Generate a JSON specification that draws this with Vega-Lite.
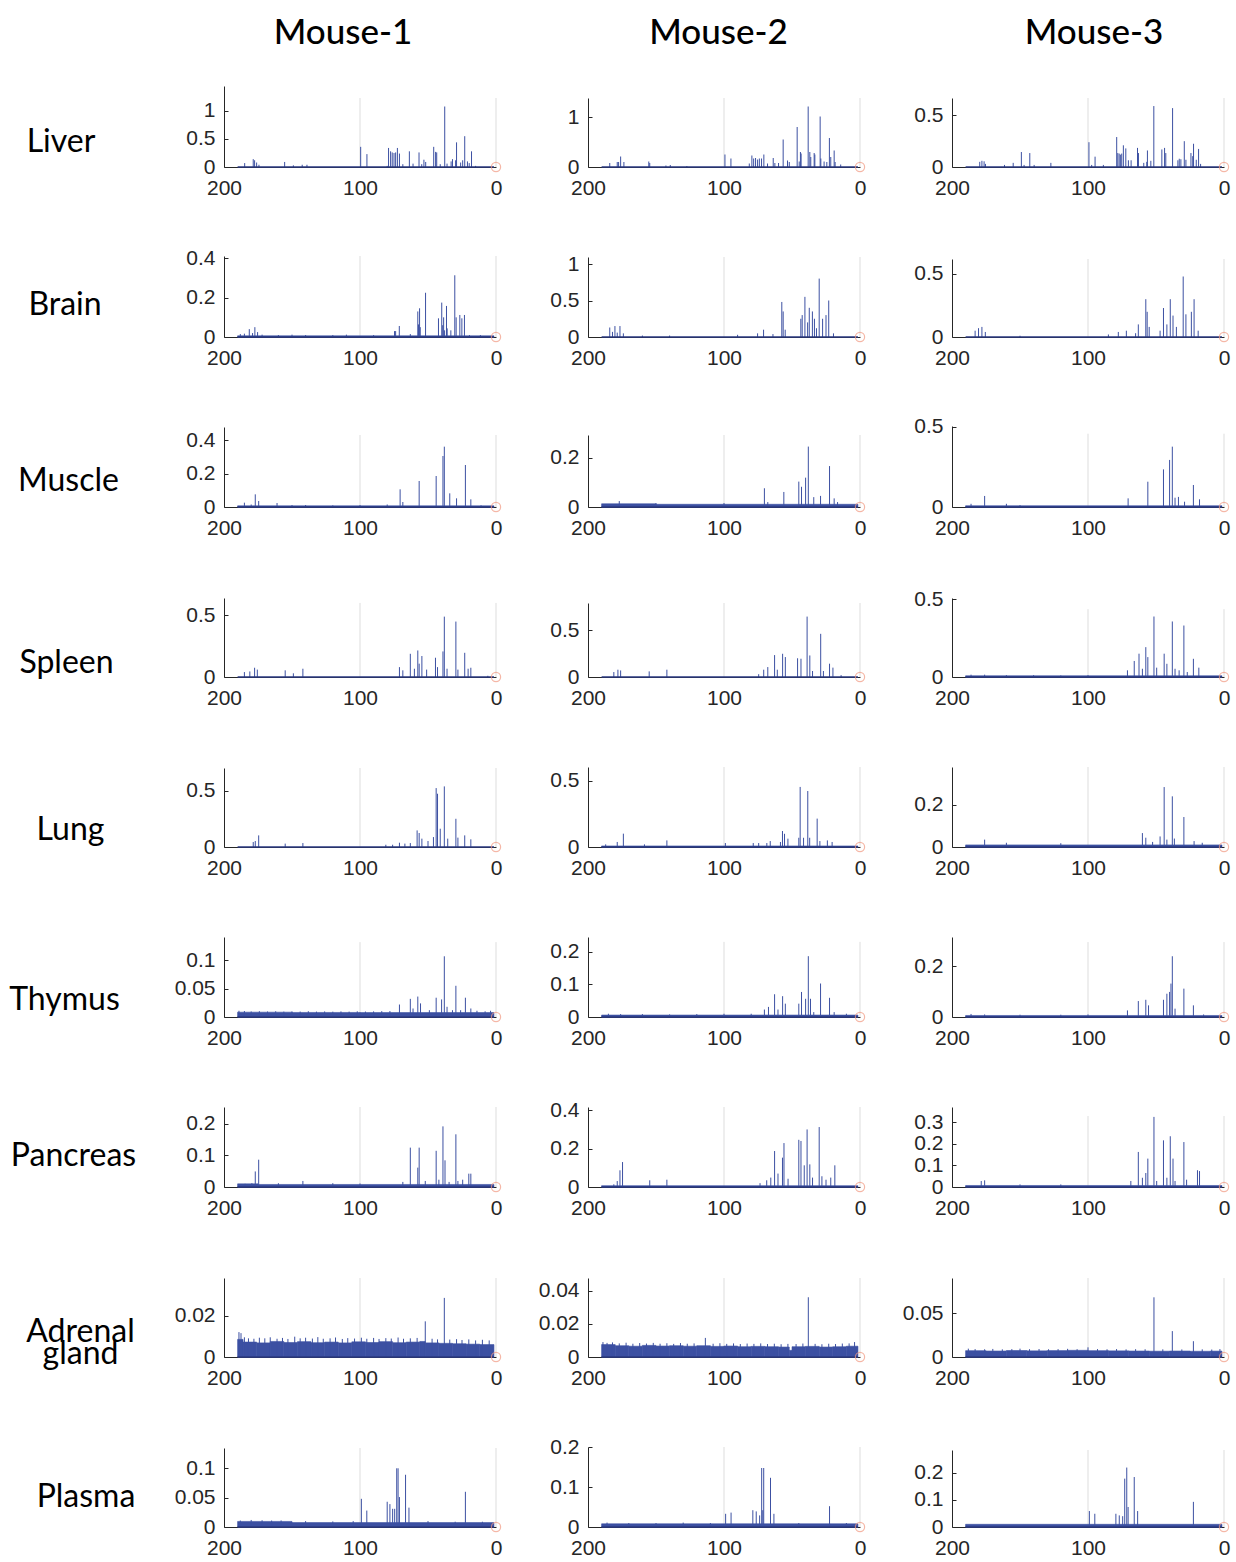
{
"$schema": "https://vega.github.io/schema/vega-lite/v6.json",
"background": "white",
"padding": {"left": 8, "top": 16, "right": 5, "bottom": 5},
"datasets": {
"s": [
{"p":"Li1","x":184.8,"v":0.07},{"p":"Li1","x":178.5,"v":0.14},{"p":"Li1","x":177.5,"v":0.12},{"p":"Li1","x":176,"v":0.08},{"p":"Li1","x":174.3,"v":0.04},{"p":"Li1","x":155.4,"v":0.09},{"p":"Li1","x":149,"v":0.03},{"p":"Li1","x":142.5,"v":0.04},{"p":"Li1","x":139,"v":0.04},{"p":"Li1","x":99.5,"v":0.36},{"p":"Li1","x":94.9,"v":0.23},{"p":"Li1","x":80,"v":0.02},{"p":"Li1","x":79,"v":0.34},{"p":"Li1","x":77.5,"v":0.28},{"p":"Li1","x":76.3,"v":0.26},{"p":"Li1","x":75,"v":0.25},{"p":"Li1","x":73.8,"v":0.26},{"p":"Li1","x":72.5,"v":0.34},{"p":"Li1","x":71,"v":0.24},{"p":"Li1","x":68.5,"v":0.05},{"p":"Li1","x":63.7,"v":0.28},{"p":"Li1","x":61,"v":0.06},{"p":"Li1","x":56.6,"v":0.26},{"p":"Li1","x":54.6,"v":0.05},{"p":"Li1","x":53,"v":0.13},{"p":"Li1","x":51.7,"v":0.09},{"p":"Li1","x":45.8,"v":0.36},{"p":"Li1","x":44.4,"v":0.27},{"p":"Li1","x":43.6,"v":0.26},{"p":"Li1","x":41,"v":0.05},{"p":"Li1","x":37.7,"v":1.08},{"p":"Li1","x":36,"v":0.06},{"p":"Li1","x":33,"v":0.1},{"p":"Li1","x":32,"v":0.14},{"p":"Li1","x":29.7,"v":0.12},{"p":"Li1","x":29,"v":0.44},{"p":"Li1","x":26,"v":0.08},{"p":"Li1","x":24.5,"v":0.12},{"p":"Li1","x":23,"v":0.55},{"p":"Li1","x":21,"v":0.1},{"p":"Li1","x":19.7,"v":0.07},{"p":"Li1","x":18,"v":0.28},{"p":"Li1","x":15,"v":0.02},
{"p":"Li2","x":184,"v":0.08},{"p":"Li2","x":178.5,"v":0.1},{"p":"Li2","x":177.5,"v":0.1},{"p":"Li2","x":176,"v":0.21},{"p":"Li2","x":173.6,"v":0.1},{"p":"Li2","x":155.3,"v":0.11},{"p":"Li2","x":154.6,"v":0.08},{"p":"Li2","x":142.7,"v":0.03},{"p":"Li2","x":139.5,"v":0.04},{"p":"Li2","x":127.3,"v":0.02},{"p":"Li2","x":99.3,"v":0.25},{"p":"Li2","x":94.9,"v":0.17},{"p":"Li2","x":81.4,"v":0.07},{"p":"Li2","x":79.5,"v":0.23},{"p":"Li2","x":78.2,"v":0.17},{"p":"Li2","x":76.8,"v":0.18},{"p":"Li2","x":75.3,"v":0.15},{"p":"Li2","x":74,"v":0.17},{"p":"Li2","x":72.4,"v":0.17},{"p":"Li2","x":70.7,"v":0.25},{"p":"Li2","x":68,"v":0.07},{"p":"Li2","x":63.8,"v":0.18},{"p":"Li2","x":62.6,"v":0.08},{"p":"Li2","x":59.9,"v":0.08},{"p":"Li2","x":56.5,"v":0.55},{"p":"Li2","x":53.3,"v":0.13},{"p":"Li2","x":52,"v":0.1},{"p":"Li2","x":46.2,"v":0.8},{"p":"Li2","x":44.7,"v":0.11},{"p":"Li2","x":43.8,"v":0.3},{"p":"Li2","x":43.3,"v":0.27},{"p":"Li2","x":38.1,"v":1.21},{"p":"Li2","x":36.9,"v":0.3},{"p":"Li2","x":36.2,"v":0.2},{"p":"Li2","x":33.7,"v":0.28},{"p":"Li2","x":33.2,"v":0.25},{"p":"Li2","x":29.3,"v":1.01},{"p":"Li2","x":28.8,"v":0.17},{"p":"Li2","x":26.4,"v":0.11},{"p":"Li2","x":24.4,"v":0.1},{"p":"Li2","x":22.5,"v":0.58},{"p":"Li2","x":21.5,"v":0.2},{"p":"Li2","x":19,"v":0.33},{"p":"Li2","x":18.3,"v":0.1},{"p":"Li2","x":14.2,"v":0.05},
{"p":"Li3","x":179.6,"v":0.05},{"p":"Li3","x":178,"v":0.06},{"p":"Li3","x":176.4,"v":0.055},{"p":"Li3","x":175.4,"v":0.03},{"p":"Li3","x":161.4,"v":0.02},{"p":"Li3","x":155,"v":0.04},{"p":"Li3","x":149,"v":0.145},{"p":"Li3","x":147,"v":0.02},{"p":"Li3","x":142.8,"v":0.135},{"p":"Li3","x":139.6,"v":0.02},{"p":"Li3","x":127.3,"v":0.04},{"p":"Li3","x":99.3,"v":0.24},{"p":"Li3","x":97.3,"v":0.02},{"p":"Li3","x":94.8,"v":0.1},{"p":"Li3","x":88.7,"v":0.02},{"p":"Li3","x":78.9,"v":0.29},{"p":"Li3","x":78.1,"v":0.135},{"p":"Li3","x":77.1,"v":0.13},{"p":"Li3","x":76.2,"v":0.12},{"p":"Li3","x":75.2,"v":0.13},{"p":"Li3","x":74,"v":0.21},{"p":"Li3","x":72.2,"v":0.18},{"p":"Li3","x":70.3,"v":0.065},{"p":"Li3","x":68.3,"v":0.065},{"p":"Li3","x":63.6,"v":0.185},{"p":"Li3","x":62.9,"v":0.135},{"p":"Li3","x":59,"v":0.04},{"p":"Li3","x":56.8,"v":0.05},{"p":"Li3","x":56.3,"v":0.16},{"p":"Li3","x":53.8,"v":0.06},{"p":"Li3","x":51.6,"v":0.59},{"p":"Li3","x":45.7,"v":0.17},{"p":"Li3","x":43.7,"v":0.185},{"p":"Li3","x":42.8,"v":0.135},{"p":"Li3","x":37.8,"v":0.57},{"p":"Li3","x":33.9,"v":0.065},{"p":"Li3","x":32.9,"v":0.08},{"p":"Li3","x":31.7,"v":0.075},{"p":"Li3","x":29.2,"v":0.25},{"p":"Li3","x":28,"v":0.07},{"p":"Li3","x":24.3,"v":0.135},{"p":"Li3","x":23,"v":0.105},{"p":"Li3","x":22.4,"v":0.225},{"p":"Li3","x":20.4,"v":0.07},{"p":"Li3","x":18.7,"v":0.175},{"p":"Li3","x":17.2,"v":0.03},
{"p":"Br1","x":188,"v":0.015},{"p":"Br1","x":185,"v":0.017},{"p":"Br1","x":181.4,"v":0.04},{"p":"Br1","x":179,"v":0.02},{"p":"Br1","x":177.3,"v":0.05},{"p":"Br1","x":175.3,"v":0.025},{"p":"Br1","x":172,"v":0.012},{"p":"Br1","x":160,"v":0.01},{"p":"Br1","x":150,"v":0.012},{"p":"Br1","x":140,"v":0.01},{"p":"Br1","x":120,"v":0.01},{"p":"Br1","x":110,"v":0.012},{"p":"Br1","x":90,"v":0.01},{"p":"Br1","x":74.6,"v":0.03},{"p":"Br1","x":73.8,"v":0.03},{"p":"Br1","x":71.1,"v":0.056},{"p":"Br1","x":63,"v":0.015},{"p":"Br1","x":57.5,"v":0.13},{"p":"Br1","x":57,"v":0.064},{"p":"Br1","x":56.2,"v":0.146},{"p":"Br1","x":55.7,"v":0.05},{"p":"Br1","x":51.8,"v":0.225},{"p":"Br1","x":42.3,"v":0.095},{"p":"Br1","x":39.9,"v":0.175},{"p":"Br1","x":39.2,"v":0.06},{"p":"Br1","x":38.5,"v":0.1},{"p":"Br1","x":37.8,"v":0.034},{"p":"Br1","x":36.4,"v":0.158},{"p":"Br1","x":35.9,"v":0.044},{"p":"Br1","x":33.2,"v":0.034},{"p":"Br1","x":30.3,"v":0.314},{"p":"Br1","x":29.3,"v":0.1},{"p":"Br1","x":26.6,"v":0.112},{"p":"Br1","x":25.1,"v":0.095},{"p":"Br1","x":23.2,"v":0.112},{"p":"Br1","x":19.5,"v":0.01},{"p":"Br1","x":11.5,"v":0.01},
{"p":"Br2","x":184,"v":0.13},{"p":"Br2","x":182,"v":0.07},{"p":"Br2","x":180.2,"v":0.15},{"p":"Br2","x":178.5,"v":0.06},{"p":"Br2","x":176.5,"v":0.15},{"p":"Br2","x":174,"v":0.05},{"p":"Br2","x":160,"v":0.02},{"p":"Br2","x":140,"v":0.02},{"p":"Br2","x":90,"v":0.03},{"p":"Br2","x":75.3,"v":0.05},{"p":"Br2","x":70.9,"v":0.1},{"p":"Br2","x":64,"v":0.04},{"p":"Br2","x":57.5,"v":0.48},{"p":"Br2","x":56.5,"v":0.35},{"p":"Br2","x":55,"v":0.1},{"p":"Br2","x":43.5,"v":0.25},{"p":"Br2","x":42.5,"v":0.3},{"p":"Br2","x":40.5,"v":0.55},{"p":"Br2","x":38.5,"v":0.2},{"p":"Br2","x":37.3,"v":0.4},{"p":"Br2","x":35,"v":0.35},{"p":"Br2","x":33.5,"v":0.25},{"p":"Br2","x":32,"v":0.12},{"p":"Br2","x":30,"v":0.8},{"p":"Br2","x":27.5,"v":0.25},{"p":"Br2","x":25,"v":0.3},{"p":"Br2","x":23,"v":0.5},{"p":"Br2","x":19.5,"v":0.05},
{"p":"Br3","x":183,"v":0.05},{"p":"Br3","x":180.5,"v":0.07},{"p":"Br3","x":178,"v":0.08},{"p":"Br3","x":175.5,"v":0.04},{"p":"Br3","x":150,"v":0.01},{"p":"Br3","x":85,"v":0.02},{"p":"Br3","x":77.7,"v":0.04},{"p":"Br3","x":71.8,"v":0.05},{"p":"Br3","x":65,"v":0.03},{"p":"Br3","x":63,"v":0.1},{"p":"Br3","x":57.5,"v":0.3},{"p":"Br3","x":56.5,"v":0.2},{"p":"Br3","x":55,"v":0.08},{"p":"Br3","x":47,"v":0.05},{"p":"Br3","x":44.5,"v":0.23},{"p":"Br3","x":42,"v":0.1},{"p":"Br3","x":39.5,"v":0.3},{"p":"Br3","x":37.5,"v":0.17},{"p":"Br3","x":35,"v":0.08},{"p":"Br3","x":30,"v":0.48},{"p":"Br3","x":28,"v":0.18},{"p":"Br3","x":24,"v":0.2},{"p":"Br3","x":22,"v":0.3},{"p":"Br3","x":19,"v":0.05},
{"p":"Mu1","x":185,"v":0.026},{"p":"Mu1","x":180,"v":0.015},{"p":"Mu1","x":177,"v":0.076},{"p":"Mu1","x":174.5,"v":0.036},{"p":"Mu1","x":161,"v":0.024},{"p":"Mu1","x":150,"v":0.012},{"p":"Mu1","x":140,"v":0.012},{"p":"Mu1","x":120,"v":0.01},{"p":"Mu1","x":100,"v":0.012},{"p":"Mu1","x":80,"v":0.015},{"p":"Mu1","x":70.5,"v":0.106},{"p":"Mu1","x":68.5,"v":0.03},{"p":"Mu1","x":56.5,"v":0.156},{"p":"Mu1","x":44,"v":0.186},{"p":"Mu1","x":39,"v":0.306},{"p":"Mu1","x":38,"v":0.362},{"p":"Mu1","x":34,"v":0.082},{"p":"Mu1","x":29,"v":0.052},{"p":"Mu1","x":22.5,"v":0.252},{"p":"Mu1","x":18.5,"v":0.046},{"p":"Mu1","x":11,"v":0.01},
{"p":"Mu2","x":177,"v":0.024},{"p":"Mu2","x":150,"v":0.016},{"p":"Mu2","x":100,"v":0.016},{"p":"Mu2","x":70.3,"v":0.076},{"p":"Mu2","x":67.8,"v":0.02},{"p":"Mu2","x":56,"v":0.061},{"p":"Mu2","x":45,"v":0.103},{"p":"Mu2","x":43,"v":0.082},{"p":"Mu2","x":40,"v":0.119},{"p":"Mu2","x":38,"v":0.245},{"p":"Mu2","x":34,"v":0.04},{"p":"Mu2","x":29,"v":0.045},{"p":"Mu2","x":22.4,"v":0.166},{"p":"Mu2","x":19,"v":0.035},{"p":"Mu2","x":16.5,"v":0.02},
{"p":"Mu3","x":186,"v":0.02},{"p":"Mu3","x":176,"v":0.069},{"p":"Mu3","x":160,"v":0.02},{"p":"Mu3","x":150,"v":0.012},{"p":"Mu3","x":70.5,"v":0.054},{"p":"Mu3","x":56,"v":0.158},{"p":"Mu3","x":44.5,"v":0.235},{"p":"Mu3","x":40,"v":0.294},{"p":"Mu3","x":38,"v":0.377},{"p":"Mu3","x":36,"v":0.058},{"p":"Mu3","x":33.5,"v":0.063},{"p":"Mu3","x":29,"v":0.033},{"p":"Mu3","x":22.5,"v":0.1375},{"p":"Mu3","x":18,"v":0.048},
{"p":"Sp1","x":185,"v":0.04},{"p":"Sp1","x":181,"v":0.045},{"p":"Sp1","x":177.5,"v":0.075},{"p":"Sp1","x":175.5,"v":0.06},{"p":"Sp1","x":155,"v":0.054},{"p":"Sp1","x":149,"v":0.03},{"p":"Sp1","x":142,"v":0.067},{"p":"Sp1","x":71,"v":0.08},{"p":"Sp1","x":68.5,"v":0.054},{"p":"Sp1","x":63,"v":0.188},{"p":"Sp1","x":60,"v":0.067},{"p":"Sp1","x":57.5,"v":0.215},{"p":"Sp1","x":56.5,"v":0.108},{"p":"Sp1","x":54.5,"v":0.17},{"p":"Sp1","x":51,"v":0.06},{"p":"Sp1","x":44.5,"v":0.156},{"p":"Sp1","x":43,"v":0.08},{"p":"Sp1","x":39,"v":0.207},{"p":"Sp1","x":38,"v":0.489},{"p":"Sp1","x":36,"v":0.067},{"p":"Sp1","x":29.5,"v":0.449},{"p":"Sp1","x":28,"v":0.06},{"p":"Sp1","x":23,"v":0.196},{"p":"Sp1","x":20.5,"v":0.067},{"p":"Sp1","x":18.5,"v":0.075},{"p":"Sp1","x":6,"v":0.01},
{"p":"Sp2","x":181,"v":0.053},{"p":"Sp2","x":178,"v":0.078},{"p":"Sp2","x":176,"v":0.07},{"p":"Sp2","x":155,"v":0.06},{"p":"Sp2","x":142,"v":0.078},{"p":"Sp2","x":74.5,"v":0.03},{"p":"Sp2","x":70.8,"v":0.078},{"p":"Sp2","x":67.8,"v":0.106},{"p":"Sp2","x":62.8,"v":0.234},{"p":"Sp2","x":60.8,"v":0.078},{"p":"Sp2","x":56.9,"v":0.248},{"p":"Sp2","x":54.9,"v":0.213},{"p":"Sp2","x":45.9,"v":0.2},{"p":"Sp2","x":43.4,"v":0.195},{"p":"Sp2","x":38.9,"v":0.645},{"p":"Sp2","x":36.9,"v":0.23},{"p":"Sp2","x":34.9,"v":0.064},{"p":"Sp2","x":28.9,"v":0.461},{"p":"Sp2","x":26.9,"v":0.064},{"p":"Sp2","x":22.4,"v":0.142},{"p":"Sp2","x":19.9,"v":0.1},{"p":"Sp2","x":13.9,"v":0.02},
{"p":"Sp3","x":186,"v":0.015},{"p":"Sp3","x":176,"v":0.015},{"p":"Sp3","x":160,"v":0.012},{"p":"Sp3","x":140,"v":0.012},{"p":"Sp3","x":120,"v":0.01},{"p":"Sp3","x":100,"v":0.012},{"p":"Sp3","x":71,"v":0.043},{"p":"Sp3","x":66,"v":0.103},{"p":"Sp3","x":62.5,"v":0.15},{"p":"Sp3","x":60,"v":0.053},{"p":"Sp3","x":57.5,"v":0.192},{"p":"Sp3","x":56,"v":0.128},{"p":"Sp3","x":51.5,"v":0.389},{"p":"Sp3","x":49.5,"v":0.06},{"p":"Sp3","x":44,"v":0.15},{"p":"Sp3","x":42,"v":0.085},{"p":"Sp3","x":38,"v":0.357},{"p":"Sp3","x":36,"v":0.053},{"p":"Sp3","x":33,"v":0.043},{"p":"Sp3","x":29.5,"v":0.331},{"p":"Sp3","x":27,"v":0.032},{"p":"Sp3","x":22.5,"v":0.117},{"p":"Sp3","x":18.5,"v":0.06},
{"p":"Lu1","x":178.5,"v":0.044},{"p":"Lu1","x":177,"v":0.053},{"p":"Lu1","x":174.5,"v":0.103},{"p":"Lu1","x":155,"v":0.03},{"p":"Lu1","x":142,"v":0.035},{"p":"Lu1","x":81,"v":0.02},{"p":"Lu1","x":76,"v":0.02},{"p":"Lu1","x":71,"v":0.038},{"p":"Lu1","x":67,"v":0.03},{"p":"Lu1","x":63,"v":0.035},{"p":"Lu1","x":58,"v":0.147},{"p":"Lu1","x":56.5,"v":0.124},{"p":"Lu1","x":54.5,"v":0.074},{"p":"Lu1","x":50,"v":0.053},{"p":"Lu1","x":46,"v":0.088},{"p":"Lu1","x":44,"v":0.522},{"p":"Lu1","x":43,"v":0.472},{"p":"Lu1","x":41,"v":0.162},{"p":"Lu1","x":38,"v":0.537},{"p":"Lu1","x":35.5,"v":0.074},{"p":"Lu1","x":29.5,"v":0.25},{"p":"Lu1","x":28,"v":0.083},{"p":"Lu1","x":23,"v":0.103},{"p":"Lu1","x":18.5,"v":0.068},
{"p":"Lu2","x":187,"v":0.02},{"p":"Lu2","x":178.5,"v":0.038},{"p":"Lu2","x":174,"v":0.101},{"p":"Lu2","x":158.5,"v":0.02},{"p":"Lu2","x":142,"v":0.05},{"p":"Lu2","x":99,"v":0.03},{"p":"Lu2","x":78.5,"v":0.03},{"p":"Lu2","x":74.5,"v":0.03},{"p":"Lu2","x":68.5,"v":0.03},{"p":"Lu2","x":66,"v":0.045},{"p":"Lu2","x":58.5,"v":0.038},{"p":"Lu2","x":57,"v":0.121},{"p":"Lu2","x":55.5,"v":0.1},{"p":"Lu2","x":53,"v":0.063},{"p":"Lu2","x":45,"v":0.07},{"p":"Lu2","x":44,"v":0.455},{"p":"Lu2","x":41.5,"v":0.07},{"p":"Lu2","x":38.4,"v":0.424},{"p":"Lu2","x":37,"v":0.07},{"p":"Lu2","x":31.5,"v":0.215},{"p":"Lu2","x":29.5,"v":0.045},{"p":"Lu2","x":24,"v":0.05},{"p":"Lu2","x":20.5,"v":0.038},
{"p":"Lu3","x":176,"v":0.035},{"p":"Lu3","x":160,"v":0.02},{"p":"Lu3","x":120,"v":0.018},{"p":"Lu3","x":60,"v":0.066},{"p":"Lu3","x":57.5,"v":0.044},{"p":"Lu3","x":52.5,"v":0.024},{"p":"Lu3","x":47,"v":0.05},{"p":"Lu3","x":44,"v":0.284},{"p":"Lu3","x":42,"v":0.035},{"p":"Lu3","x":38,"v":0.24},{"p":"Lu3","x":36.5,"v":0.04},{"p":"Lu3","x":29.5,"v":0.142},{"p":"Lu3","x":22,"v":0.028},{"p":"Lu3","x":16,"v":0.02},
{"p":"Th1","x":189,"v":0.011},{"p":"Th1","x":185,"v":0.0105},{"p":"Th1","x":180,"v":0.0098},{"p":"Th1","x":174,"v":0.0102},{"p":"Th1","x":168,"v":0.0097},{"p":"Th1","x":162,"v":0.0101},{"p":"Th1","x":156,"v":0.0095},{"p":"Th1","x":150,"v":0.0099},{"p":"Th1","x":144,"v":0.0096},{"p":"Th1","x":138,"v":0.0102},{"p":"Th1","x":132,"v":0.0095},{"p":"Th1","x":126,"v":0.0098},{"p":"Th1","x":120,"v":0.0094},{"p":"Th1","x":114,"v":0.0099},{"p":"Th1","x":108,"v":0.0095},{"p":"Th1","x":102,"v":0.01},{"p":"Th1","x":96,"v":0.0096},{"p":"Th1","x":90,"v":0.0099},{"p":"Th1","x":84,"v":0.0103},{"p":"Th1","x":78,"v":0.0105},{"p":"Th1","x":71,"v":0.022},{"p":"Th1","x":63,"v":0.032},{"p":"Th1","x":61,"v":0.015},{"p":"Th1","x":57.5,"v":0.036},{"p":"Th1","x":55.5,"v":0.024},{"p":"Th1","x":49,"v":0.012},{"p":"Th1","x":44,"v":0.034},{"p":"Th1","x":40,"v":0.031},{"p":"Th1","x":38,"v":0.107},{"p":"Th1","x":36,"v":0.018},{"p":"Th1","x":32,"v":0.012},{"p":"Th1","x":29.5,"v":0.055},{"p":"Th1","x":26,"v":0.012},{"p":"Th1","x":22.5,"v":0.034},{"p":"Th1","x":18.5,"v":0.015},{"p":"Th1","x":14,"v":0.011},{"p":"Th1","x":8,"v":0.01},{"p":"Th1","x":4,"v":0.011},
{"p":"Th2","x":185,"v":0.01},{"p":"Th2","x":176,"v":0.009},{"p":"Th2","x":160,"v":0.009},{"p":"Th2","x":140,"v":0.008},{"p":"Th2","x":120,"v":0.009},{"p":"Th2","x":100,"v":0.01},{"p":"Th2","x":80,"v":0.01},{"p":"Th2","x":70.3,"v":0.023},{"p":"Th2","x":67.3,"v":0.031},{"p":"Th2","x":62.8,"v":0.07},{"p":"Th2","x":60.3,"v":0.023},{"p":"Th2","x":56.9,"v":0.064},{"p":"Th2","x":54.9,"v":0.041},{"p":"Th2","x":45,"v":0.041},{"p":"Th2","x":43,"v":0.077},{"p":"Th2","x":40,"v":0.056},{"p":"Th2","x":38,"v":0.187},{"p":"Th2","x":36.4,"v":0.056},{"p":"Th2","x":34,"v":0.015},{"p":"Th2","x":29,"v":0.103},{"p":"Th2","x":22.4,"v":0.059},{"p":"Th2","x":19,"v":0.015},{"p":"Th2","x":10,"v":0.01},
{"p":"Th3","x":186,"v":0.012},{"p":"Th3","x":176,"v":0.01},{"p":"Th3","x":150,"v":0.009},{"p":"Th3","x":120,"v":0.009},{"p":"Th3","x":100,"v":0.01},{"p":"Th3","x":71,"v":0.026},{"p":"Th3","x":63,"v":0.063},{"p":"Th3","x":57.5,"v":0.068},{"p":"Th3","x":55.5,"v":0.046},{"p":"Th3","x":44.5,"v":0.068},{"p":"Th3","x":42,"v":0.092},{"p":"Th3","x":40,"v":0.099},{"p":"Th3","x":39,"v":0.132},{"p":"Th3","x":38,"v":0.24},{"p":"Th3","x":36,"v":0.033},{"p":"Th3","x":29.5,"v":0.112},{"p":"Th3","x":22.5,"v":0.046},{"p":"Th3","x":15,"v":0.01},
{"p":"Pa1","x":184.5,"v":0.01},{"p":"Pa1","x":179.5,"v":0.012},{"p":"Pa1","x":177,"v":0.049},{"p":"Pa1","x":174.5,"v":0.086},{"p":"Pa1","x":160,"v":0.012},{"p":"Pa1","x":142,"v":0.019},{"p":"Pa1","x":120,"v":0.012},{"p":"Pa1","x":100,"v":0.011},{"p":"Pa1","x":68.5,"v":0.016},{"p":"Pa1","x":63,"v":0.124},{"p":"Pa1","x":57.5,"v":0.061},{"p":"Pa1","x":56.5,"v":0.124},{"p":"Pa1","x":52,"v":0.019},{"p":"Pa1","x":44,"v":0.114},{"p":"Pa1","x":42,"v":0.023},{"p":"Pa1","x":39,"v":0.191},{"p":"Pa1","x":37.5,"v":0.084},{"p":"Pa1","x":34.5,"v":0.016},{"p":"Pa1","x":29.5,"v":0.166},{"p":"Pa1","x":28,"v":0.019},{"p":"Pa1","x":24.5,"v":0.023},{"p":"Pa1","x":20,"v":0.042},{"p":"Pa1","x":18.5,"v":0.042},
{"p":"Pa2","x":181,"v":0.014},{"p":"Pa2","x":178.5,"v":0.031},{"p":"Pa2","x":176.5,"v":0.087},{"p":"Pa2","x":174.6,"v":0.13},{"p":"Pa2","x":154.6,"v":0.035},{"p":"Pa2","x":142,"v":0.038},{"p":"Pa2","x":73.5,"v":0.02},{"p":"Pa2","x":68.6,"v":0.035},{"p":"Pa2","x":65.6,"v":0.049},{"p":"Pa2","x":62.8,"v":0.1875},{"p":"Pa2","x":60.3,"v":0.07},{"p":"Pa2","x":57,"v":0.153},{"p":"Pa2","x":55.9,"v":0.229},{"p":"Pa2","x":52.9,"v":0.043},{"p":"Pa2","x":45,"v":0.246},{"p":"Pa2","x":43.4,"v":0.24},{"p":"Pa2","x":41,"v":0.113},{"p":"Pa2","x":38.9,"v":0.3},{"p":"Pa2","x":36.9,"v":0.118},{"p":"Pa2","x":34.9,"v":0.049},{"p":"Pa2","x":30,"v":0.3125},{"p":"Pa2","x":28,"v":0.056},{"p":"Pa2","x":25,"v":0.038},{"p":"Pa2","x":21.5,"v":0.049},{"p":"Pa2","x":18.5,"v":0.113},
{"p":"Pa3","x":178.5,"v":0.028},{"p":"Pa3","x":176,"v":0.031},{"p":"Pa3","x":150,"v":0.012},{"p":"Pa3","x":120,"v":0.012},{"p":"Pa3","x":68.5,"v":0.028},{"p":"Pa3","x":63,"v":0.163},{"p":"Pa3","x":60,"v":0.043},{"p":"Pa3","x":57.5,"v":0.065},{"p":"Pa3","x":56,"v":0.132},{"p":"Pa3","x":51.5,"v":0.326},{"p":"Pa3","x":49.5,"v":0.028},{"p":"Pa3","x":44.5,"v":0.217},{"p":"Pa3","x":42,"v":0.043},{"p":"Pa3","x":39.5,"v":0.236},{"p":"Pa3","x":37.5,"v":0.132},{"p":"Pa3","x":36,"v":0.028},{"p":"Pa3","x":29.5,"v":0.209},{"p":"Pa3","x":27.5,"v":0.034},{"p":"Pa3","x":19.5,"v":0.078},{"p":"Pa3","x":18,"v":0.074},
{"p":"Ad1","x":189,"v":0.012},{"p":"Ad1","x":187.5,"v":0.0115},{"p":"Ad1","x":185,"v":0.0095},{"p":"Ad1","x":182,"v":0.009},{"p":"Ad1","x":178,"v":0.0088},{"p":"Ad1","x":174,"v":0.0093},{"p":"Ad1","x":170,"v":0.009},{"p":"Ad1","x":166,"v":0.0095},{"p":"Ad1","x":161,"v":0.0088},{"p":"Ad1","x":157,"v":0.0092},{"p":"Ad1","x":153,"v":0.0087},{"p":"Ad1","x":148,"v":0.0098},{"p":"Ad1","x":144,"v":0.009},{"p":"Ad1","x":140,"v":0.0093},{"p":"Ad1","x":135,"v":0.0089},{"p":"Ad1","x":131,"v":0.0096},{"p":"Ad1","x":127,"v":0.0088},{"p":"Ad1","x":122,"v":0.009},{"p":"Ad1","x":118,"v":0.0094},{"p":"Ad1","x":113,"v":0.0087},{"p":"Ad1","x":109,"v":0.0091},{"p":"Ad1","x":104,"v":0.0089},{"p":"Ad1","x":99,"v":0.0093},{"p":"Ad1","x":95,"v":0.0088},{"p":"Ad1","x":90,"v":0.0092},{"p":"Ad1","x":86,"v":0.0087},{"p":"Ad1","x":81,"v":0.0091},{"p":"Ad1","x":77,"v":0.0089},{"p":"Ad1","x":72,"v":0.0094},{"p":"Ad1","x":68,"v":0.0088},{"p":"Ad1","x":63,"v":0.009},{"p":"Ad1","x":58,"v":0.0092},{"p":"Ad1","x":52,"v":0.0172},{"p":"Ad1","x":47,"v":0.0088},{"p":"Ad1","x":43,"v":0.0085},{"p":"Ad1","x":38,"v":0.0285},{"p":"Ad1","x":34,"v":0.0084},{"p":"Ad1","x":29,"v":0.0086},{"p":"Ad1","x":25,"v":0.0082},{"p":"Ad1","x":20,"v":0.0085},{"p":"Ad1","x":15,"v":0.008},{"p":"Ad1","x":10,"v":0.0083},{"p":"Ad1","x":5,"v":0.008},
{"p":"Ad2","x":189,"v":0.009},{"p":"Ad2","x":186,"v":0.0085},{"p":"Ad2","x":182,"v":0.0088},{"p":"Ad2","x":177,"v":0.0082},{"p":"Ad2","x":172,"v":0.0086},{"p":"Ad2","x":167,"v":0.008},{"p":"Ad2","x":162,"v":0.0084},{"p":"Ad2","x":157,"v":0.0081},{"p":"Ad2","x":152,"v":0.0085},{"p":"Ad2","x":147,"v":0.008},{"p":"Ad2","x":142,"v":0.0083},{"p":"Ad2","x":137,"v":0.0079},{"p":"Ad2","x":132,"v":0.0084},{"p":"Ad2","x":127,"v":0.008},{"p":"Ad2","x":122,"v":0.0082},{"p":"Ad2","x":113.7,"v":0.0115},{"p":"Ad2","x":108,"v":0.008},{"p":"Ad2","x":103,"v":0.0083},{"p":"Ad2","x":98,"v":0.0079},{"p":"Ad2","x":93,"v":0.0082},{"p":"Ad2","x":88,"v":0.0078},{"p":"Ad2","x":83,"v":0.0081},{"p":"Ad2","x":78,"v":0.0079},{"p":"Ad2","x":73,"v":0.0082},{"p":"Ad2","x":68,"v":0.0078},{"p":"Ad2","x":63,"v":0.008},{"p":"Ad2","x":58,"v":0.0077},{"p":"Ad2","x":53,"v":0.0079},{"p":"Ad2","x":47,"v":0.0078},{"p":"Ad2","x":42,"v":0.0081},{"p":"Ad2","x":38,"v":0.036},{"p":"Ad2","x":33,"v":0.0079},{"p":"Ad2","x":28,"v":0.0077},{"p":"Ad2","x":23,"v":0.008},{"p":"Ad2","x":18,"v":0.0078},{"p":"Ad2","x":13,"v":0.0081},{"p":"Ad2","x":8,"v":0.0082},{"p":"Ad2","x":4,"v":0.009},
{"p":"Ad3","x":188,"v":0.0095},{"p":"Ad3","x":183,"v":0.009},{"p":"Ad3","x":176,"v":0.0088},{"p":"Ad3","x":170,"v":0.0092},{"p":"Ad3","x":163,"v":0.0087},{"p":"Ad3","x":156,"v":0.009},{"p":"Ad3","x":150,"v":0.0095},{"p":"Ad3","x":143,"v":0.0089},{"p":"Ad3","x":136,"v":0.0091},{"p":"Ad3","x":129,"v":0.0088},{"p":"Ad3","x":122,"v":0.009},{"p":"Ad3","x":115,"v":0.0093},{"p":"Ad3","x":108,"v":0.0089},{"p":"Ad3","x":100,"v":0.011},{"p":"Ad3","x":93,"v":0.009},{"p":"Ad3","x":86,"v":0.0088},{"p":"Ad3","x":79,"v":0.009},{"p":"Ad3","x":72,"v":0.0087},{"p":"Ad3","x":65,"v":0.0089},{"p":"Ad3","x":58,"v":0.0088},{"p":"Ad3","x":51.5,"v":0.068},{"p":"Ad3","x":45,"v":0.0087},{"p":"Ad3","x":38,"v":0.0295},{"p":"Ad3","x":31,"v":0.0086},{"p":"Ad3","x":22.5,"v":0.018},{"p":"Ad3","x":16,"v":0.0087},{"p":"Ad3","x":9,"v":0.0085},{"p":"Ad3","x":3,"v":0.009},
{"p":"Pl1","x":188,"v":0.011},{"p":"Pl1","x":180,"v":0.012},{"p":"Pl1","x":172,"v":0.0115},{"p":"Pl1","x":165,"v":0.011},{"p":"Pl1","x":158,"v":0.0112},{"p":"Pl1","x":140,"v":0.01},{"p":"Pl1","x":120,"v":0.0095},{"p":"Pl1","x":105,"v":0.01},{"p":"Pl1","x":99,"v":0.048},{"p":"Pl1","x":95,"v":0.028},{"p":"Pl1","x":80,"v":0.043},{"p":"Pl1","x":78,"v":0.039},{"p":"Pl1","x":76,"v":0.031},{"p":"Pl1","x":74.5,"v":0.031},{"p":"Pl1","x":73,"v":0.1},{"p":"Pl1","x":72,"v":0.1},{"p":"Pl1","x":71,"v":0.051},{"p":"Pl1","x":66.5,"v":0.089},{"p":"Pl1","x":64,"v":0.033},{"p":"Pl1","x":50,"v":0.01},{"p":"Pl1","x":30,"v":0.009},{"p":"Pl1","x":22.5,"v":0.06},{"p":"Pl1","x":10,"v":0.009},
{"p":"Pl2","x":186,"v":0.011},{"p":"Pl2","x":170,"v":0.01},{"p":"Pl2","x":150,"v":0.01},{"p":"Pl2","x":130,"v":0.011},{"p":"Pl2","x":110,"v":0.01},{"p":"Pl2","x":98.8,"v":0.033},{"p":"Pl2","x":94.8,"v":0.036},{"p":"Pl2","x":78.8,"v":0.042},{"p":"Pl2","x":76.3,"v":0.039},{"p":"Pl2","x":73.8,"v":0.029},{"p":"Pl2","x":72.3,"v":0.1475},{"p":"Pl2","x":71.5,"v":0.042},{"p":"Pl2","x":70.8,"v":0.1475},{"p":"Pl2","x":65.8,"v":0.123},{"p":"Pl2","x":63.3,"v":0.033},{"p":"Pl2","x":45,"v":0.01},{"p":"Pl2","x":22.4,"v":0.052},{"p":"Pl2","x":10,"v":0.01},
{"p":"Pl3","x":99,"v":0.059},{"p":"Pl3","x":95,"v":0.049},{"p":"Pl3","x":79.5,"v":0.049},{"p":"Pl3","x":77,"v":0.043},{"p":"Pl3","x":74.5,"v":0.04},{"p":"Pl3","x":73,"v":0.179},{"p":"Pl3","x":71.5,"v":0.22},{"p":"Pl3","x":70.5,"v":0.074},{"p":"Pl3","x":66,"v":0.185},{"p":"Pl3","x":63.5,"v":0.059},{"p":"Pl3","x":22.5,"v":0.093}
],
"b": [
{"p":"Br1","x":190,"x2":1.5,"v":0.006},
{"p":"Mu1","x":190,"x2":1.5,"v":0.007},
{"p":"Mu2","x":190,"x2":150,"v":0.013},{"p":"Mu2","x":150,"x2":1.5,"v":0.011},
{"p":"Mu3","x":190,"x2":1.5,"v":0.008},
{"p":"Sp3","x":190,"x2":1.5,"v":0.008},
{"p":"Lu2","x":190,"x2":1.5,"v":0.008},
{"p":"Lu3","x":190,"x2":1.5,"v":0.01},
{"p":"Th1","x":190,"x2":150,"v":0.0085},{"p":"Th1","x":150,"x2":100,"v":0.008},{"p":"Th1","x":100,"x2":1.5,"v":0.0078},
{"p":"Th2","x":190,"x2":1.5,"v":0.006},
{"p":"Th3","x":190,"x2":1.5,"v":0.006},
{"p":"Pa1","x":190,"x2":175,"v":0.01},{"p":"Pa1","x":175,"x2":1.5,"v":0.008},
{"p":"Pa2","x":190,"x2":1.5,"v":0.007},
{"p":"Pa3","x":190,"x2":1.5,"v":0.007},
{"p":"Ad1","x":190,"x2":186,"v":0.0085},{"p":"Ad1","x":186,"x2":176,"v":0.0072},{"p":"Ad1","x":176,"x2":166,"v":0.0068},{"p":"Ad1","x":166,"x2":156,"v":0.0075},{"p":"Ad1","x":156,"x2":146,"v":0.007},{"p":"Ad1","x":146,"x2":136,"v":0.0074},{"p":"Ad1","x":136,"x2":126,"v":0.0069},{"p":"Ad1","x":126,"x2":116,"v":0.0072},{"p":"Ad1","x":116,"x2":106,"v":0.0068},{"p":"Ad1","x":106,"x2":96,"v":0.0073},{"p":"Ad1","x":96,"x2":86,"v":0.007},{"p":"Ad1","x":86,"x2":76,"v":0.0074},{"p":"Ad1","x":76,"x2":66,"v":0.0069},{"p":"Ad1","x":66,"x2":56,"v":0.0072},{"p":"Ad1","x":56,"x2":52,"v":0.0075},{"p":"Ad1","x":52,"x2":42,"v":0.0068},{"p":"Ad1","x":42,"x2":32,"v":0.0066},{"p":"Ad1","x":32,"x2":22,"v":0.0064},{"p":"Ad1","x":22,"x2":12,"v":0.0062},{"p":"Ad1","x":12,"x2":1.5,"v":0.006},
{"p":"Ad2","x":190,"x2":180,"v":0.0075},{"p":"Ad2","x":180,"x2":170,"v":0.0068},{"p":"Ad2","x":170,"x2":160,"v":0.0065},{"p":"Ad2","x":160,"x2":150,"v":0.007},{"p":"Ad2","x":150,"x2":140,"v":0.0066},{"p":"Ad2","x":140,"x2":130,"v":0.0068},{"p":"Ad2","x":130,"x2":120,"v":0.0065},{"p":"Ad2","x":120,"x2":110,"v":0.0068},{"p":"Ad2","x":110,"x2":100,"v":0.0064},{"p":"Ad2","x":100,"x2":90,"v":0.0066},{"p":"Ad2","x":90,"x2":80,"v":0.0062},{"p":"Ad2","x":80,"x2":70,"v":0.0064},{"p":"Ad2","x":70,"x2":60,"v":0.0062},{"p":"Ad2","x":60,"x2":52,"v":0.006},{"p":"Ad2","x":52,"x2":50,"v":0.004},{"p":"Ad2","x":50,"x2":40,"v":0.0062},{"p":"Ad2","x":40,"x2":30,"v":0.0064},{"p":"Ad2","x":30,"x2":20,"v":0.006},{"p":"Ad2","x":20,"x2":10,"v":0.0062},{"p":"Ad2","x":10,"x2":1.5,"v":0.0065},
{"p":"Ad3","x":190,"x2":175,"v":0.0072},{"p":"Ad3","x":175,"x2":160,"v":0.0068},{"p":"Ad3","x":160,"x2":145,"v":0.0074},{"p":"Ad3","x":145,"x2":130,"v":0.007},{"p":"Ad3","x":130,"x2":115,"v":0.0073},{"p":"Ad3","x":115,"x2":100,"v":0.0076},{"p":"Ad3","x":100,"x2":85,"v":0.0072},{"p":"Ad3","x":85,"x2":70,"v":0.007},{"p":"Ad3","x":70,"x2":55,"v":0.0068},{"p":"Ad3","x":55,"x2":40,"v":0.0066},{"p":"Ad3","x":40,"x2":25,"v":0.0068},{"p":"Ad3","x":25,"x2":10,"v":0.0065},{"p":"Ad3","x":10,"x2":1.5,"v":0.0067},
{"p":"Pl1","x":190,"x2":150,"v":0.0095},{"p":"Pl1","x":150,"x2":1.5,"v":0.0075},
{"p":"Pl2","x":190,"x2":1.5,"v":0.008},
{"p":"Pl3","x":190,"x2":1.5,"v":0.01}
]
},
"vconcat": [
{"hconcat": [
{"width":272,"height":82,"title":{"text":"Mouse-1","dx":-17},"layer":[
{"data":{"values":[{"g":100},{"g":0}]},"mark":{"type":"rule","color":"#dddddd"},"encoding":{"x":{"field":"g","type":"quantitative","title":null},"y":{"datum":0},"y2":{"datum":1.232}}},
{"data":{"name":"b"},"transform":[{"filter":"datum.p=='Li1'"}],"mark":{"type":"rect","color":"#3c50a2","stroke":"#3c50a2","strokeWidth":0.6},"encoding":{"x":{"field":"x","type":"quantitative","title":null},"x2":{"field":"x2"},"y":{"field":"v","type":"quantitative"},"y2":{"datum":0}}},
{"data":{"name":"s"},"transform":[{"filter":"datum.p=='Li1'"}],"mark":{"type":"rule","color":"#3c50a2"},"encoding":{"x":{"field":"x","type":"quantitative","scale":{"domain":[0,200],"reverse":true,"nice":false,"zero":false},"axis":{"values":[200,100,0],"format":"d","title":null}},"y":{"field":"v","type":"quantitative","scale":{"domain":[0,1.446],"range":[82,1],"nice":false},"axis":{"values":[0,0.5,1],"format":"~g","title":"Liver","titleX":-163.5,"titleY":56}},"y2":{"datum":0}}},
{"data":{"values":[{}]},"mark":{"type":"rule","color":"#2a3880","strokeWidth":1.5},"encoding":{"x":{"datum":190},"x2":{"datum":1.5},"y":{"datum":0}}},
{"data":{"values":[{}]},"mark":{"type":"point","shape":"circle","size":85,"filled":false,"color":"#f29a82","strokeWidth":1.2},"encoding":{"x":{"datum":0},"y":{"datum":0}}}]},
{"width":272,"height":82,"title":{"text":"Mouse-2","dx":-5.5},"layer":[
{"data":{"values":[{"g":100},{"g":0}]},"mark":{"type":"rule","color":"#dddddd"},"encoding":{"x":{"field":"g","type":"quantitative","title":null},"y":{"datum":0},"y2":{"datum":1.38}}},
{"data":{"name":"b"},"transform":[{"filter":"datum.p=='Li2'"}],"mark":{"type":"rect","color":"#3c50a2","stroke":"#3c50a2","strokeWidth":0.6},"encoding":{"x":{"field":"x","type":"quantitative","title":null},"x2":{"field":"x2"},"y":{"field":"v","type":"quantitative","title":null},"y2":{"datum":0}}},
{"data":{"name":"s"},"transform":[{"filter":"datum.p=='Li2'"}],"mark":{"type":"rule","color":"#3c50a2"},"encoding":{"x":{"field":"x","type":"quantitative","scale":{"domain":[0,200],"reverse":true,"nice":false,"zero":false},"axis":{"values":[200,100,0],"format":"d","title":null}},"y":{"field":"v","type":"quantitative","scale":{"domain":[0,1.38],"range":[82,13],"nice":false},"axis":{"values":[0,1],"format":"~g","title":null}},"y2":{"datum":0}}},
{"data":{"values":[{}]},"mark":{"type":"rule","color":"#2a3880","strokeWidth":1.5},"encoding":{"x":{"datum":190},"x2":{"datum":1.5},"y":{"datum":0}}},
{"data":{"values":[{}]},"mark":{"type":"point","shape":"circle","size":85,"filled":false,"color":"#f29a82","strokeWidth":1.2},"encoding":{"x":{"datum":0},"y":{"datum":0}}}]},
{"width":272,"height":82,"title":{"text":"Mouse-3","dx":6},"layer":[
{"data":{"values":[{"g":100},{"g":0}]},"mark":{"type":"rule","color":"#dddddd"},"encoding":{"x":{"field":"g","type":"quantitative","title":null},"y":{"datum":0},"y2":{"datum":0.668}}},
{"data":{"name":"b"},"transform":[{"filter":"datum.p=='Li3'"}],"mark":{"type":"rect","color":"#3c50a2","stroke":"#3c50a2","strokeWidth":0.6},"encoding":{"x":{"field":"x","type":"quantitative","title":null},"x2":{"field":"x2"},"y":{"field":"v","type":"quantitative","title":null},"y2":{"datum":0}}},
{"data":{"name":"s"},"transform":[{"filter":"datum.p=='Li3'"}],"mark":{"type":"rule","color":"#3c50a2"},"encoding":{"x":{"field":"x","type":"quantitative","scale":{"domain":[0,200],"reverse":true,"nice":false,"zero":false},"axis":{"values":[200,100,0],"format":"d","title":null}},"y":{"field":"v","type":"quantitative","scale":{"domain":[0,0.668],"range":[82,13],"nice":false},"axis":{"values":[0,0.5],"format":"~g","title":null}},"y2":{"datum":0}}},
{"data":{"values":[{}]},"mark":{"type":"rule","color":"#2a3880","strokeWidth":1.5},"encoding":{"x":{"datum":190},"x2":{"datum":1.5},"y":{"datum":0}}},
{"data":{"values":[{}]},"mark":{"type":"point","shape":"circle","size":85,"filled":false,"color":"#f29a82","strokeWidth":1.2},"encoding":{"x":{"datum":0},"y":{"datum":0}}}]}
],"spacing":92,"bounds":"flush"},
{"hconcat": [
{"width":272,"height":82,"layer":[
{"data":{"values":[{"g":100},{"g":0}]},"mark":{"type":"rule","color":"#dddddd"},"encoding":{"x":{"field":"g","type":"quantitative","title":null},"y":{"datum":0},"y2":{"datum":0.412}}},
{"data":{"name":"b"},"transform":[{"filter":"datum.p=='Br1'"}],"mark":{"type":"rect","color":"#3c50a2","stroke":"#3c50a2","strokeWidth":0.6},"encoding":{"x":{"field":"x","type":"quantitative","title":null},"x2":{"field":"x2"},"y":{"field":"v","type":"quantitative"},"y2":{"datum":0}}},
{"data":{"name":"s"},"transform":[{"filter":"datum.p=='Br1'"}],"mark":{"type":"rule","color":"#3c50a2"},"encoding":{"x":{"field":"x","type":"quantitative","scale":{"domain":[0,200],"reverse":true,"nice":false,"zero":false},"axis":{"values":[200,100,0],"format":"d","title":null}},"y":{"field":"v","type":"quantitative","scale":{"domain":[0,0.412],"range":[82,1],"nice":false},"axis":{"values":[0,0.2,0.4],"format":"~g","title":"Brain","titleX":-159.5,"titleY":49}},"y2":{"datum":0}}},
{"data":{"values":[{}]},"mark":{"type":"rule","color":"#2a3880","strokeWidth":1.5},"encoding":{"x":{"datum":190},"x2":{"datum":1.5},"y":{"datum":0}}},
{"data":{"values":[{}]},"mark":{"type":"point","shape":"circle","size":85,"filled":false,"color":"#f29a82","strokeWidth":1.2},"encoding":{"x":{"datum":0},"y":{"datum":0}}}]},
{"width":272,"height":82,"layer":[
{"data":{"values":[{"g":100},{"g":0}]},"mark":{"type":"rule","color":"#dddddd"},"encoding":{"x":{"field":"g","type":"quantitative","title":null},"y":{"datum":0},"y2":{"datum":1.096}}},
{"data":{"name":"b"},"transform":[{"filter":"datum.p=='Br2'"}],"mark":{"type":"rect","color":"#3c50a2","stroke":"#3c50a2","strokeWidth":0.6},"encoding":{"x":{"field":"x","type":"quantitative","title":null},"x2":{"field":"x2"},"y":{"field":"v","type":"quantitative","title":null},"y2":{"datum":0}}},
{"data":{"name":"s"},"transform":[{"filter":"datum.p=='Br2'"}],"mark":{"type":"rule","color":"#3c50a2"},"encoding":{"x":{"field":"x","type":"quantitative","scale":{"domain":[0,200],"reverse":true,"nice":false,"zero":false},"axis":{"values":[200,100,0],"format":"d","title":null}},"y":{"field":"v","type":"quantitative","scale":{"domain":[0,1.096],"range":[82,2],"nice":false},"axis":{"values":[0,0.5,1],"format":"~g","title":null}},"y2":{"datum":0}}},
{"data":{"values":[{}]},"mark":{"type":"rule","color":"#2a3880","strokeWidth":1.5},"encoding":{"x":{"datum":190},"x2":{"datum":1.5},"y":{"datum":0}}},
{"data":{"values":[{}]},"mark":{"type":"point","shape":"circle","size":85,"filled":false,"color":"#f29a82","strokeWidth":1.2},"encoding":{"x":{"datum":0},"y":{"datum":0}}}]},
{"width":272,"height":82,"layer":[
{"data":{"values":[{"g":100},{"g":0}]},"mark":{"type":"rule","color":"#dddddd"},"encoding":{"x":{"field":"g","type":"quantitative","title":null},"y":{"datum":0},"y2":{"datum":0.619}}},
{"data":{"name":"b"},"transform":[{"filter":"datum.p=='Br3'"}],"mark":{"type":"rect","color":"#3c50a2","stroke":"#3c50a2","strokeWidth":0.6},"encoding":{"x":{"field":"x","type":"quantitative","title":null},"x2":{"field":"x2"},"y":{"field":"v","type":"quantitative","title":null},"y2":{"datum":0}}},
{"data":{"name":"s"},"transform":[{"filter":"datum.p=='Br3'"}],"mark":{"type":"rule","color":"#3c50a2"},"encoding":{"x":{"field":"x","type":"quantitative","scale":{"domain":[0,200],"reverse":true,"nice":false,"zero":false},"axis":{"values":[200,100,0],"format":"d","title":null}},"y":{"field":"v","type":"quantitative","scale":{"domain":[0,0.619],"range":[82,4],"nice":false},"axis":{"values":[0,0.5],"format":"~g","title":null}},"y2":{"datum":0}}},
{"data":{"values":[{}]},"mark":{"type":"rule","color":"#2a3880","strokeWidth":1.5},"encoding":{"x":{"datum":190},"x2":{"datum":1.5},"y":{"datum":0}}},
{"data":{"values":[{}]},"mark":{"type":"point","shape":"circle","size":85,"filled":false,"color":"#f29a82","strokeWidth":1.2},"encoding":{"x":{"datum":0},"y":{"datum":0}}}]}
],"spacing":92,"bounds":"flush"},
{"hconcat": [
{"width":272,"height":82,"layer":[
{"data":{"values":[{"g":100},{"g":0}]},"mark":{"type":"rule","color":"#dddddd"},"encoding":{"x":{"field":"g","type":"quantitative","title":null},"y":{"datum":0},"y2":{"datum":0.432}}},
{"data":{"name":"b"},"transform":[{"filter":"datum.p=='Mu1'"}],"mark":{"type":"rect","color":"#3c50a2","stroke":"#3c50a2","strokeWidth":0.6},"encoding":{"x":{"field":"x","type":"quantitative","title":null},"x2":{"field":"x2"},"y":{"field":"v","type":"quantitative"},"y2":{"datum":0}}},
{"data":{"name":"s"},"transform":[{"filter":"datum.p=='Mu1'"}],"mark":{"type":"rule","color":"#3c50a2"},"encoding":{"x":{"field":"x","type":"quantitative","scale":{"domain":[0,200],"reverse":true,"nice":false,"zero":false},"axis":{"values":[200,100,0],"format":"d","title":null}},"y":{"field":"v","type":"quantitative","scale":{"domain":[0,0.48],"range":[82,2],"nice":false},"axis":{"values":[0,0.2,0.4],"format":"~g","title":"Muscle","titleX":-156,"titleY":55}},"y2":{"datum":0}}},
{"data":{"values":[{}]},"mark":{"type":"rule","color":"#2a3880","strokeWidth":1.5},"encoding":{"x":{"datum":190},"x2":{"datum":1.5},"y":{"datum":0}}},
{"data":{"values":[{}]},"mark":{"type":"point","shape":"circle","size":85,"filled":false,"color":"#f29a82","strokeWidth":1.2},"encoding":{"x":{"datum":0},"y":{"datum":0}}}]},
{"width":272,"height":82,"layer":[
{"data":{"values":[{"g":100},{"g":0}]},"mark":{"type":"rule","color":"#dddddd"},"encoding":{"x":{"field":"g","type":"quantitative","title":null},"y":{"datum":0},"y2":{"datum":0.292}}},
{"data":{"name":"b"},"transform":[{"filter":"datum.p=='Mu2'"}],"mark":{"type":"rect","color":"#3c50a2","stroke":"#3c50a2","strokeWidth":0.6},"encoding":{"x":{"field":"x","type":"quantitative","title":null},"x2":{"field":"x2"},"y":{"field":"v","type":"quantitative","title":null},"y2":{"datum":0}}},
{"data":{"name":"s"},"transform":[{"filter":"datum.p=='Mu2'"}],"mark":{"type":"rule","color":"#3c50a2"},"encoding":{"x":{"field":"x","type":"quantitative","scale":{"domain":[0,200],"reverse":true,"nice":false,"zero":false},"axis":{"values":[200,100,0],"format":"d","title":null}},"y":{"field":"v","type":"quantitative","scale":{"domain":[0,0.292],"range":[82,10],"nice":false},"axis":{"values":[0,0.2],"format":"~g","title":null}},"y2":{"datum":0}}},
{"data":{"values":[{}]},"mark":{"type":"rule","color":"#2a3880","strokeWidth":1.5},"encoding":{"x":{"datum":190},"x2":{"datum":1.5},"y":{"datum":0}}},
{"data":{"values":[{}]},"mark":{"type":"point","shape":"circle","size":85,"filled":false,"color":"#f29a82","strokeWidth":1.2},"encoding":{"x":{"datum":0},"y":{"datum":0}}}]},
{"width":272,"height":82,"layer":[
{"data":{"values":[{"g":100},{"g":0}]},"mark":{"type":"rule","color":"#dddddd"},"encoding":{"x":{"field":"g","type":"quantitative","title":null},"y":{"datum":0},"y2":{"datum":0.458}}},
{"data":{"name":"b"},"transform":[{"filter":"datum.p=='Mu3'"}],"mark":{"type":"rect","color":"#3c50a2","stroke":"#3c50a2","strokeWidth":0.6},"encoding":{"x":{"field":"x","type":"quantitative","title":null},"x2":{"field":"x2"},"y":{"field":"v","type":"quantitative","title":null},"y2":{"datum":0}}},
{"data":{"name":"s"},"transform":[{"filter":"datum.p=='Mu3'"}],"mark":{"type":"rule","color":"#3c50a2"},"encoding":{"x":{"field":"x","type":"quantitative","scale":{"domain":[0,200],"reverse":true,"nice":false,"zero":false},"axis":{"values":[200,100,0],"format":"d","title":null}},"y":{"field":"v","type":"quantitative","scale":{"domain":[0,0.506],"range":[82,1],"nice":false},"axis":{"values":[0,0.5],"format":"~g","title":null}},"y2":{"datum":0}}},
{"data":{"values":[{}]},"mark":{"type":"rule","color":"#2a3880","strokeWidth":1.5},"encoding":{"x":{"datum":190},"x2":{"datum":1.5},"y":{"datum":0}}},
{"data":{"values":[{}]},"mark":{"type":"point","shape":"circle","size":85,"filled":false,"color":"#f29a82","strokeWidth":1.2},"encoding":{"x":{"datum":0},"y":{"datum":0}}}]}
],"spacing":92,"bounds":"flush"},
{"hconcat": [
{"width":272,"height":82,"layer":[
{"data":{"values":[{"g":100},{"g":0}]},"mark":{"type":"rule","color":"#dddddd"},"encoding":{"x":{"field":"g","type":"quantitative","title":null},"y":{"datum":0},"y2":{"datum":0.6}}},
{"data":{"name":"b"},"transform":[{"filter":"datum.p=='Sp1'"}],"mark":{"type":"rect","color":"#3c50a2","stroke":"#3c50a2","strokeWidth":0.6},"encoding":{"x":{"field":"x","type":"quantitative","title":null},"x2":{"field":"x2"},"y":{"field":"v","type":"quantitative"},"y2":{"datum":0}}},
{"data":{"name":"s"},"transform":[{"filter":"datum.p=='Sp1'"}],"mark":{"type":"rule","color":"#3c50a2"},"encoding":{"x":{"field":"x","type":"quantitative","scale":{"domain":[0,200],"reverse":true,"nice":false,"zero":false},"axis":{"values":[200,100,0],"format":"d","title":null}},"y":{"field":"v","type":"quantitative","scale":{"domain":[0,0.64],"range":[82,3],"nice":false},"axis":{"values":[0,0.5],"format":"~g","title":"Spleen","titleX":-158,"titleY":67}},"y2":{"datum":0}}},
{"data":{"values":[{}]},"mark":{"type":"rule","color":"#2a3880","strokeWidth":1.5},"encoding":{"x":{"datum":190},"x2":{"datum":1.5},"y":{"datum":0}}},
{"data":{"values":[{}]},"mark":{"type":"point","shape":"circle","size":85,"filled":false,"color":"#f29a82","strokeWidth":1.2},"encoding":{"x":{"datum":0},"y":{"datum":0}}}]},
{"width":272,"height":82,"layer":[
{"data":{"values":[{"g":100},{"g":0}]},"mark":{"type":"rule","color":"#dddddd"},"encoding":{"x":{"field":"g","type":"quantitative","title":null},"y":{"datum":0},"y2":{"datum":0.79}}},
{"data":{"name":"b"},"transform":[{"filter":"datum.p=='Sp2'"}],"mark":{"type":"rect","color":"#3c50a2","stroke":"#3c50a2","strokeWidth":0.6},"encoding":{"x":{"field":"x","type":"quantitative","title":null},"x2":{"field":"x2"},"y":{"field":"v","type":"quantitative","title":null},"y2":{"datum":0}}},
{"data":{"name":"s"},"transform":[{"filter":"datum.p=='Sp2'"}],"mark":{"type":"rule","color":"#3c50a2"},"encoding":{"x":{"field":"x","type":"quantitative","scale":{"domain":[0,200],"reverse":true,"nice":false,"zero":false},"axis":{"values":[200,100,0],"format":"d","title":null}},"y":{"field":"v","type":"quantitative","scale":{"domain":[0,0.79],"range":[82,8],"nice":false},"axis":{"values":[0,0.5],"format":"~g","title":null}},"y2":{"datum":0}}},
{"data":{"values":[{}]},"mark":{"type":"rule","color":"#2a3880","strokeWidth":1.5},"encoding":{"x":{"datum":190},"x2":{"datum":1.5},"y":{"datum":0}}},
{"data":{"values":[{}]},"mark":{"type":"point","shape":"circle","size":85,"filled":false,"color":"#f29a82","strokeWidth":1.2},"encoding":{"x":{"datum":0},"y":{"datum":0}}}]},
{"width":272,"height":82,"layer":[
{"data":{"values":[{"g":100},{"g":0}]},"mark":{"type":"rule","color":"#dddddd"},"encoding":{"x":{"field":"g","type":"quantitative","title":null},"y":{"datum":0},"y2":{"datum":0.436}}},
{"data":{"name":"b"},"transform":[{"filter":"datum.p=='Sp3'"}],"mark":{"type":"rect","color":"#3c50a2","stroke":"#3c50a2","strokeWidth":0.6},"encoding":{"x":{"field":"x","type":"quantitative","title":null},"x2":{"field":"x2"},"y":{"field":"v","type":"quantitative","title":null},"y2":{"datum":0}}},
{"data":{"name":"s"},"transform":[{"filter":"datum.p=='Sp3'"}],"mark":{"type":"rule","color":"#3c50a2"},"encoding":{"x":{"field":"x","type":"quantitative","scale":{"domain":[0,200],"reverse":true,"nice":false,"zero":false},"axis":{"values":[200,100,0],"format":"d","title":null}},"y":{"field":"v","type":"quantitative","scale":{"domain":[0,0.508],"range":[82,3],"nice":false},"axis":{"values":[0,0.5],"format":"~g","title":null}},"y2":{"datum":0}}},
{"data":{"values":[{}]},"mark":{"type":"rule","color":"#2a3880","strokeWidth":1.5},"encoding":{"x":{"datum":190},"x2":{"datum":1.5},"y":{"datum":0}}},
{"data":{"values":[{}]},"mark":{"type":"point","shape":"circle","size":85,"filled":false,"color":"#f29a82","strokeWidth":1.2},"encoding":{"x":{"datum":0},"y":{"datum":0}}}]}
],"spacing":92,"bounds":"flush"},
{"hconcat": [
{"width":272,"height":82,"layer":[
{"data":{"values":[{"g":100},{"g":0}]},"mark":{"type":"rule","color":"#dddddd"},"encoding":{"x":{"field":"g","type":"quantitative","title":null},"y":{"datum":0},"y2":{"datum":0.70}}},
{"data":{"name":"b"},"transform":[{"filter":"datum.p=='Lu1'"}],"mark":{"type":"rect","color":"#3c50a2","stroke":"#3c50a2","strokeWidth":0.6},"encoding":{"x":{"field":"x","type":"quantitative","title":null},"x2":{"field":"x2"},"y":{"field":"v","type":"quantitative"},"y2":{"datum":0}}},
{"data":{"name":"s"},"transform":[{"filter":"datum.p=='Lu1'"}],"mark":{"type":"rule","color":"#3c50a2"},"encoding":{"x":{"field":"x","type":"quantitative","scale":{"domain":[0,200],"reverse":true,"nice":false,"zero":false},"axis":{"values":[200,100,0],"format":"d","title":null}},"y":{"field":"v","type":"quantitative","scale":{"domain":[0,0.70],"range":[82,3],"nice":false},"axis":{"values":[0,0.5],"format":"~g","title":"Lung","titleX":-154,"titleY":64}},"y2":{"datum":0}}},
{"data":{"values":[{}]},"mark":{"type":"rule","color":"#2a3880","strokeWidth":1.5},"encoding":{"x":{"datum":190},"x2":{"datum":1.5},"y":{"datum":0}}},
{"data":{"values":[{}]},"mark":{"type":"point","shape":"circle","size":85,"filled":false,"color":"#f29a82","strokeWidth":1.2},"encoding":{"x":{"datum":0},"y":{"datum":0}}}]},
{"width":272,"height":82,"layer":[
{"data":{"values":[{"g":100},{"g":0}]},"mark":{"type":"rule","color":"#dddddd"},"encoding":{"x":{"field":"g","type":"quantitative","title":null},"y":{"datum":0},"y2":{"datum":0.606}}},
{"data":{"name":"b"},"transform":[{"filter":"datum.p=='Lu2'"}],"mark":{"type":"rect","color":"#3c50a2","stroke":"#3c50a2","strokeWidth":0.6},"encoding":{"x":{"field":"x","type":"quantitative","title":null},"x2":{"field":"x2"},"y":{"field":"v","type":"quantitative","title":null},"y2":{"datum":0}}},
{"data":{"name":"s"},"transform":[{"filter":"datum.p=='Lu2'"}],"mark":{"type":"rule","color":"#3c50a2"},"encoding":{"x":{"field":"x","type":"quantitative","scale":{"domain":[0,200],"reverse":true,"nice":false,"zero":false},"axis":{"values":[200,100,0],"format":"d","title":null}},"y":{"field":"v","type":"quantitative","scale":{"domain":[0,0.606],"range":[82,2],"nice":false},"axis":{"values":[0,0.5],"format":"~g","title":null}},"y2":{"datum":0}}},
{"data":{"values":[{}]},"mark":{"type":"rule","color":"#2a3880","strokeWidth":1.5},"encoding":{"x":{"datum":190},"x2":{"datum":1.5},"y":{"datum":0}}},
{"data":{"values":[{}]},"mark":{"type":"point","shape":"circle","size":85,"filled":false,"color":"#f29a82","strokeWidth":1.2},"encoding":{"x":{"datum":0},"y":{"datum":0}}}]},
{"width":272,"height":82,"layer":[
{"data":{"values":[{"g":100},{"g":0}]},"mark":{"type":"rule","color":"#dddddd"},"encoding":{"x":{"field":"g","type":"quantitative","title":null},"y":{"datum":0},"y2":{"datum":0.379}}},
{"data":{"name":"b"},"transform":[{"filter":"datum.p=='Lu3'"}],"mark":{"type":"rect","color":"#3c50a2","stroke":"#3c50a2","strokeWidth":0.6},"encoding":{"x":{"field":"x","type":"quantitative","title":null},"x2":{"field":"x2"},"y":{"field":"v","type":"quantitative","title":null},"y2":{"datum":0}}},
{"data":{"name":"s"},"transform":[{"filter":"datum.p=='Lu3'"}],"mark":{"type":"rule","color":"#3c50a2"},"encoding":{"x":{"field":"x","type":"quantitative","scale":{"domain":[0,200],"reverse":true,"nice":false,"zero":false},"axis":{"values":[200,100,0],"format":"d","title":null}},"y":{"field":"v","type":"quantitative","scale":{"domain":[0,0.379],"range":[82,2],"nice":false},"axis":{"values":[0,0.2],"format":"~g","title":null}},"y2":{"datum":0}}},
{"data":{"values":[{}]},"mark":{"type":"rule","color":"#2a3880","strokeWidth":1.5},"encoding":{"x":{"datum":190},"x2":{"datum":1.5},"y":{"datum":0}}},
{"data":{"values":[{}]},"mark":{"type":"point","shape":"circle","size":85,"filled":false,"color":"#f29a82","strokeWidth":1.2},"encoding":{"x":{"datum":0},"y":{"datum":0}}}]}
],"spacing":92,"bounds":"flush"},
{"hconcat": [
{"width":272,"height":82,"layer":[
{"data":{"values":[{"g":100},{"g":0}]},"mark":{"type":"rule","color":"#dddddd"},"encoding":{"x":{"field":"g","type":"quantitative","title":null},"y":{"datum":0},"y2":{"datum":0.132}}},
{"data":{"name":"b"},"transform":[{"filter":"datum.p=='Th1'"}],"mark":{"type":"rect","color":"#3c50a2","stroke":"#3c50a2","strokeWidth":0.6},"encoding":{"x":{"field":"x","type":"quantitative","title":null},"x2":{"field":"x2"},"y":{"field":"v","type":"quantitative"},"y2":{"datum":0}}},
{"data":{"name":"s"},"transform":[{"filter":"datum.p=='Th1'"}],"mark":{"type":"rule","color":"#3c50a2"},"encoding":{"x":{"field":"x","type":"quantitative","scale":{"domain":[0,200],"reverse":true,"nice":false,"zero":false},"axis":{"values":[200,100,0],"format":"d","title":null}},"y":{"field":"v","type":"quantitative","scale":{"domain":[0,0.141],"range":[82,2],"nice":false},"axis":{"values":[0,0.05,0.1],"format":"~g","title":"Thymus","titleX":-160,"titleY":64}},"y2":{"datum":0}}},
{"data":{"values":[{}]},"mark":{"type":"rule","color":"#2a3880","strokeWidth":1.5},"encoding":{"x":{"datum":190},"x2":{"datum":1.5},"y":{"datum":0}}},
{"data":{"values":[{}]},"mark":{"type":"point","shape":"circle","size":85,"filled":false,"color":"#f29a82","strokeWidth":1.2},"encoding":{"x":{"datum":0},"y":{"datum":0}}}]},
{"width":272,"height":82,"layer":[
{"data":{"values":[{"g":100},{"g":0}]},"mark":{"type":"rule","color":"#dddddd"},"encoding":{"x":{"field":"g","type":"quantitative","title":null},"y":{"datum":0},"y2":{"datum":0.231}}},
{"data":{"name":"b"},"transform":[{"filter":"datum.p=='Th2'"}],"mark":{"type":"rect","color":"#3c50a2","stroke":"#3c50a2","strokeWidth":0.6},"encoding":{"x":{"field":"x","type":"quantitative","title":null},"x2":{"field":"x2"},"y":{"field":"v","type":"quantitative","title":null},"y2":{"datum":0}}},
{"data":{"name":"s"},"transform":[{"filter":"datum.p=='Th2'"}],"mark":{"type":"rule","color":"#3c50a2"},"encoding":{"x":{"field":"x","type":"quantitative","scale":{"domain":[0,200],"reverse":true,"nice":false,"zero":false},"axis":{"values":[200,100,0],"format":"d","title":null}},"y":{"field":"v","type":"quantitative","scale":{"domain":[0,0.246],"range":[82,2],"nice":false},"axis":{"values":[0,0.1,0.2],"format":"~g","title":null}},"y2":{"datum":0}}},
{"data":{"values":[{}]},"mark":{"type":"rule","color":"#2a3880","strokeWidth":1.5},"encoding":{"x":{"datum":190},"x2":{"datum":1.5},"y":{"datum":0}}},
{"data":{"values":[{}]},"mark":{"type":"point","shape":"circle","size":85,"filled":false,"color":"#f29a82","strokeWidth":1.2},"encoding":{"x":{"datum":0},"y":{"datum":0}}}]},
{"width":272,"height":82,"layer":[
{"data":{"values":[{"g":100},{"g":0}]},"mark":{"type":"rule","color":"#dddddd"},"encoding":{"x":{"field":"g","type":"quantitative","title":null},"y":{"datum":0},"y2":{"datum":0.296}}},
{"data":{"name":"b"},"transform":[{"filter":"datum.p=='Th3'"}],"mark":{"type":"rect","color":"#3c50a2","stroke":"#3c50a2","strokeWidth":0.6},"encoding":{"x":{"field":"x","type":"quantitative","title":null},"x2":{"field":"x2"},"y":{"field":"v","type":"quantitative","title":null},"y2":{"datum":0}}},
{"data":{"name":"s"},"transform":[{"filter":"datum.p=='Th3'"}],"mark":{"type":"rule","color":"#3c50a2"},"encoding":{"x":{"field":"x","type":"quantitative","scale":{"domain":[0,200],"reverse":true,"nice":false,"zero":false},"axis":{"values":[200,100,0],"format":"d","title":null}},"y":{"field":"v","type":"quantitative","scale":{"domain":[0,0.316],"range":[82,2],"nice":false},"axis":{"values":[0,0.2],"format":"~g","title":null}},"y2":{"datum":0}}},
{"data":{"values":[{}]},"mark":{"type":"rule","color":"#2a3880","strokeWidth":1.5},"encoding":{"x":{"datum":190},"x2":{"datum":1.5},"y":{"datum":0}}},
{"data":{"values":[{}]},"mark":{"type":"point","shape":"circle","size":85,"filled":false,"color":"#f29a82","strokeWidth":1.2},"encoding":{"x":{"datum":0},"y":{"datum":0}}}]}
],"spacing":92,"bounds":"flush"},
{"hconcat": [
{"width":272,"height":82,"layer":[
{"data":{"values":[{"g":100},{"g":0}]},"mark":{"type":"rule","color":"#dddddd"},"encoding":{"x":{"field":"g","type":"quantitative","title":null},"y":{"datum":0},"y2":{"datum":0.252}}},
{"data":{"name":"b"},"transform":[{"filter":"datum.p=='Pa1'"}],"mark":{"type":"rect","color":"#3c50a2","stroke":"#3c50a2","strokeWidth":0.6},"encoding":{"x":{"field":"x","type":"quantitative","title":null},"x2":{"field":"x2"},"y":{"field":"v","type":"quantitative"},"y2":{"datum":0}}},
{"data":{"name":"s"},"transform":[{"filter":"datum.p=='Pa1'"}],"mark":{"type":"rule","color":"#3c50a2"},"encoding":{"x":{"field":"x","type":"quantitative","scale":{"domain":[0,200],"reverse":true,"nice":false,"zero":false},"axis":{"values":[200,100,0],"format":"d","title":null}},"y":{"field":"v","type":"quantitative","scale":{"domain":[0,0.252],"range":[82,2],"nice":false},"axis":{"values":[0,0.1,0.2],"format":"~g","title":"Pancreas","titleX":-151,"titleY":50}},"y2":{"datum":0}}},
{"data":{"values":[{}]},"mark":{"type":"rule","color":"#2a3880","strokeWidth":1.5},"encoding":{"x":{"datum":190},"x2":{"datum":1.5},"y":{"datum":0}}},
{"data":{"values":[{}]},"mark":{"type":"point","shape":"circle","size":85,"filled":false,"color":"#f29a82","strokeWidth":1.2},"encoding":{"x":{"datum":0},"y":{"datum":0}}}]},
{"width":272,"height":82,"layer":[
{"data":{"values":[{"g":100},{"g":0}]},"mark":{"type":"rule","color":"#dddddd"},"encoding":{"x":{"field":"g","type":"quantitative","title":null},"y":{"datum":0},"y2":{"datum":0.417}}},
{"data":{"name":"b"},"transform":[{"filter":"datum.p=='Pa2'"}],"mark":{"type":"rect","color":"#3c50a2","stroke":"#3c50a2","strokeWidth":0.6},"encoding":{"x":{"field":"x","type":"quantitative","title":null},"x2":{"field":"x2"},"y":{"field":"v","type":"quantitative","title":null},"y2":{"datum":0}}},
{"data":{"name":"s"},"transform":[{"filter":"datum.p=='Pa2'"}],"mark":{"type":"rule","color":"#3c50a2"},"encoding":{"x":{"field":"x","type":"quantitative","scale":{"domain":[0,200],"reverse":true,"nice":false,"zero":false},"axis":{"values":[200,100,0],"format":"d","title":null}},"y":{"field":"v","type":"quantitative","scale":{"domain":[0,0.417],"range":[82,2],"nice":false},"axis":{"values":[0,0.2,0.4],"format":"~g","title":null}},"y2":{"datum":0}}},
{"data":{"values":[{}]},"mark":{"type":"rule","color":"#2a3880","strokeWidth":1.5},"encoding":{"x":{"datum":190},"x2":{"datum":1.5},"y":{"datum":0}}},
{"data":{"values":[{}]},"mark":{"type":"point","shape":"circle","size":85,"filled":false,"color":"#f29a82","strokeWidth":1.2},"encoding":{"x":{"datum":0},"y":{"datum":0}}}]},
{"width":272,"height":82,"layer":[
{"data":{"values":[{"g":100},{"g":0}]},"mark":{"type":"rule","color":"#dddddd"},"encoding":{"x":{"field":"g","type":"quantitative","title":null},"y":{"datum":0},"y2":{"datum":0.33}}},
{"data":{"name":"b"},"transform":[{"filter":"datum.p=='Pa3'"}],"mark":{"type":"rect","color":"#3c50a2","stroke":"#3c50a2","strokeWidth":0.6},"encoding":{"x":{"field":"x","type":"quantitative","title":null},"x2":{"field":"x2"},"y":{"field":"v","type":"quantitative","title":null},"y2":{"datum":0}}},
{"data":{"name":"s"},"transform":[{"filter":"datum.p=='Pa3'"}],"mark":{"type":"rule","color":"#3c50a2"},"encoding":{"x":{"field":"x","type":"quantitative","scale":{"domain":[0,200],"reverse":true,"nice":false,"zero":false},"axis":{"values":[200,100,0],"format":"d","title":null}},"y":{"field":"v","type":"quantitative","scale":{"domain":[0,0.372],"range":[82,2],"nice":false},"axis":{"values":[0,0.1,0.2,0.3],"format":"~g","title":null,"labelOverlap":"greedy","labelSeparation":-20,"labelBound":false,"tickCount":4}},"y2":{"datum":0}}},
{"data":{"values":[{}]},"mark":{"type":"rule","color":"#2a3880","strokeWidth":1.5},"encoding":{"x":{"datum":190},"x2":{"datum":1.5},"y":{"datum":0}}},
{"data":{"values":[{}]},"mark":{"type":"point","shape":"circle","size":85,"filled":false,"color":"#f29a82","strokeWidth":1.2},"encoding":{"x":{"datum":0},"y":{"datum":0}}}]}
],"spacing":92,"bounds":"flush"},
{"hconcat": [
{"width":272,"height":82,"layer":[
{"data":{"values":[{"g":100},{"g":0}]},"mark":{"type":"rule","color":"#dddddd"},"encoding":{"x":{"field":"g","type":"quantitative","title":null},"y":{"datum":0},"y2":{"datum":0.0381}}},
{"data":{"name":"b"},"transform":[{"filter":"datum.p=='Ad1'"}],"mark":{"type":"rect","color":"#3c50a2","stroke":"#3c50a2","strokeWidth":0.6},"encoding":{"x":{"field":"x","type":"quantitative","title":null},"x2":{"field":"x2"},"y":{"field":"v","type":"quantitative"},"y2":{"datum":0}}},
{"data":{"name":"s"},"transform":[{"filter":"datum.p=='Ad1'"}],"mark":{"type":"rule","color":"#3c50a2"},"encoding":{"x":{"field":"x","type":"quantitative","scale":{"domain":[0,200],"reverse":true,"nice":false,"zero":false},"axis":{"values":[200,100,0],"format":"d","title":null}},"y":{"field":"v","type":"quantitative","scale":{"domain":[0,0.0381],"range":[82,3],"nice":false},"axis":{"values":[0,0.02],"format":"~g","title":["Adrenal","gland"],"titleX":-144,"titleY":56,"titleLineHeight":22}},"y2":{"datum":0}}},
{"data":{"values":[{}]},"mark":{"type":"rule","color":"#2a3880","strokeWidth":1.5},"encoding":{"x":{"datum":190},"x2":{"datum":1.5},"y":{"datum":0}}},
{"data":{"values":[{}]},"mark":{"type":"point","shape":"circle","size":85,"filled":false,"color":"#f29a82","strokeWidth":1.2},"encoding":{"x":{"datum":0},"y":{"datum":0}}}]},
{"width":272,"height":82,"layer":[
{"data":{"values":[{"g":100},{"g":0}]},"mark":{"type":"rule","color":"#dddddd"},"encoding":{"x":{"field":"g","type":"quantitative","title":null},"y":{"datum":0},"y2":{"datum":0.0476}}},
{"data":{"name":"b"},"transform":[{"filter":"datum.p=='Ad2'"}],"mark":{"type":"rect","color":"#3c50a2","stroke":"#3c50a2","strokeWidth":0.6},"encoding":{"x":{"field":"x","type":"quantitative","title":null},"x2":{"field":"x2"},"y":{"field":"v","type":"quantitative","title":null},"y2":{"datum":0}}},
{"data":{"name":"s"},"transform":[{"filter":"datum.p=='Ad2'"}],"mark":{"type":"rule","color":"#3c50a2"},"encoding":{"x":{"field":"x","type":"quantitative","scale":{"domain":[0,200],"reverse":true,"nice":false,"zero":false},"axis":{"values":[200,100,0],"format":"d","title":null}},"y":{"field":"v","type":"quantitative","scale":{"domain":[0,0.0476],"range":[82,3],"nice":false},"axis":{"values":[0,0.02,0.04],"format":"~g","title":null}},"y2":{"datum":0}}},
{"data":{"values":[{}]},"mark":{"type":"rule","color":"#2a3880","strokeWidth":1.5},"encoding":{"x":{"datum":190},"x2":{"datum":1.5},"y":{"datum":0}}},
{"data":{"values":[{}]},"mark":{"type":"point","shape":"circle","size":85,"filled":false,"color":"#f29a82","strokeWidth":1.2},"encoding":{"x":{"datum":0},"y":{"datum":0}}}]},
{"width":272,"height":82,"layer":[
{"data":{"values":[{"g":100},{"g":0}]},"mark":{"type":"rule","color":"#dddddd"},"encoding":{"x":{"field":"g","type":"quantitative","title":null},"y":{"datum":0},"y2":{"datum":0.09}}},
{"data":{"name":"b"},"transform":[{"filter":"datum.p=='Ad3'"}],"mark":{"type":"rect","color":"#3c50a2","stroke":"#3c50a2","strokeWidth":0.6},"encoding":{"x":{"field":"x","type":"quantitative","title":null},"x2":{"field":"x2"},"y":{"field":"v","type":"quantitative","title":null},"y2":{"datum":0}}},
{"data":{"name":"s"},"transform":[{"filter":"datum.p=='Ad3'"}],"mark":{"type":"rule","color":"#3c50a2"},"encoding":{"x":{"field":"x","type":"quantitative","scale":{"domain":[0,200],"reverse":true,"nice":false,"zero":false},"axis":{"values":[200,100,0],"format":"d","title":null}},"y":{"field":"v","type":"quantitative","scale":{"domain":[0,0.09],"range":[82,3],"nice":false},"axis":{"values":[0,0.05],"format":"~g","title":null}},"y2":{"datum":0}}},
{"data":{"values":[{}]},"mark":{"type":"rule","color":"#2a3880","strokeWidth":1.5},"encoding":{"x":{"datum":190},"x2":{"datum":1.5},"y":{"datum":0}}},
{"data":{"values":[{}]},"mark":{"type":"point","shape":"circle","size":85,"filled":false,"color":"#f29a82","strokeWidth":1.2},"encoding":{"x":{"datum":0},"y":{"datum":0}}}]}
],"spacing":92,"bounds":"flush"},
{"hconcat": [
{"width":272,"height":82,"layer":[
{"data":{"values":[{"g":100},{"g":0}]},"mark":{"type":"rule","color":"#dddddd"},"encoding":{"x":{"field":"g","type":"quantitative","title":null},"y":{"datum":0},"y2":{"datum":0.1346}}},
{"data":{"name":"b"},"transform":[{"filter":"datum.p=='Pl1'"}],"mark":{"type":"rect","color":"#3c50a2","stroke":"#3c50a2","strokeWidth":0.6},"encoding":{"x":{"field":"x","type":"quantitative","title":null},"x2":{"field":"x2"},"y":{"field":"v","type":"quantitative"},"y2":{"datum":0}}},
{"data":{"name":"s"},"transform":[{"filter":"datum.p=='Pl1'"}],"mark":{"type":"rule","color":"#3c50a2"},"encoding":{"x":{"field":"x","type":"quantitative","scale":{"domain":[0,200],"reverse":true,"nice":false,"zero":false},"axis":{"values":[200,100,0],"format":"d","title":null}},"y":{"field":"v","type":"quantitative","scale":{"domain":[0,0.1346],"range":[82,3],"nice":false},"axis":{"values":[0,0.05,0.1],"format":"~g","title":"Plasma","titleX":-138.5,"titleY":51}},"y2":{"datum":0}}},
{"data":{"values":[{}]},"mark":{"type":"rule","color":"#2a3880","strokeWidth":1.5},"encoding":{"x":{"datum":190},"x2":{"datum":1.5},"y":{"datum":0}}},
{"data":{"values":[{}]},"mark":{"type":"point","shape":"circle","size":85,"filled":false,"color":"#f29a82","strokeWidth":1.2},"encoding":{"x":{"datum":0},"y":{"datum":0}}}]},
{"width":272,"height":82,"layer":[
{"data":{"values":[{"g":100},{"g":0}]},"mark":{"type":"rule","color":"#dddddd"},"encoding":{"x":{"field":"g","type":"quantitative","title":null},"y":{"datum":0},"y2":{"datum":0.2}}},
{"data":{"name":"b"},"transform":[{"filter":"datum.p=='Pl2'"}],"mark":{"type":"rect","color":"#3c50a2","stroke":"#3c50a2","strokeWidth":0.6},"encoding":{"x":{"field":"x","type":"quantitative","title":null},"x2":{"field":"x2"},"y":{"field":"v","type":"quantitative","title":null},"y2":{"datum":0}}},
{"data":{"name":"s"},"transform":[{"filter":"datum.p=='Pl2'"}],"mark":{"type":"rule","color":"#3c50a2"},"encoding":{"x":{"field":"x","type":"quantitative","scale":{"domain":[0,200],"reverse":true,"nice":false,"zero":false},"axis":{"values":[200,100,0],"format":"d","title":null}},"y":{"field":"v","type":"quantitative","scale":{"domain":[0,0.2],"range":[82,2],"nice":false},"axis":{"values":[0,0.1,0.2],"format":"~g","title":null}},"y2":{"datum":0}}},
{"data":{"values":[{}]},"mark":{"type":"rule","color":"#2a3880","strokeWidth":1.5},"encoding":{"x":{"datum":190},"x2":{"datum":1.5},"y":{"datum":0}}},
{"data":{"values":[{}]},"mark":{"type":"point","shape":"circle","size":85,"filled":false,"color":"#f29a82","strokeWidth":1.2},"encoding":{"x":{"datum":0},"y":{"datum":0}}}]},
{"width":272,"height":82,"layer":[
{"data":{"values":[{"g":100},{"g":0}]},"mark":{"type":"rule","color":"#dddddd"},"encoding":{"x":{"field":"g","type":"quantitative","title":null},"y":{"datum":0},"y2":{"datum":0.285}}},
{"data":{"name":"b"},"transform":[{"filter":"datum.p=='Pl3'"}],"mark":{"type":"rect","color":"#3c50a2","stroke":"#3c50a2","strokeWidth":0.6},"encoding":{"x":{"field":"x","type":"quantitative","title":null},"x2":{"field":"x2"},"y":{"field":"v","type":"quantitative","title":null},"y2":{"datum":0}}},
{"data":{"name":"s"},"transform":[{"filter":"datum.p=='Pl3'"}],"mark":{"type":"rule","color":"#3c50a2"},"encoding":{"x":{"field":"x","type":"quantitative","scale":{"domain":[0,200],"reverse":true,"nice":false,"zero":false},"axis":{"values":[200,100,0],"format":"d","title":null}},"y":{"field":"v","type":"quantitative","scale":{"domain":[0,0.285],"range":[82,5],"nice":false},"axis":{"values":[0,0.1,0.2],"format":"~g","title":null}},"y2":{"datum":0}}},
{"data":{"values":[{}]},"mark":{"type":"rule","color":"#2a3880","strokeWidth":1.5},"encoding":{"x":{"datum":190},"x2":{"datum":1.5},"y":{"datum":0}}},
{"data":{"values":[{}]},"mark":{"type":"point","shape":"circle","size":85,"filled":false,"color":"#f29a82","strokeWidth":1.2},"encoding":{"x":{"datum":0},"y":{"datum":0}}}]}
],"spacing":92,"bounds":"flush"}
],
"spacing": 170,
"bounds": "flush",
"config": {
"view": {"stroke": null},
"axis": {"grid": false, "labelFlush": false, "labelOverlap": false, "labelSeparation": -20, "domainColor": "#262626", "domainWidth": 1, "labelColor": "#262626", "labelFont": "Liberation Sans", "labelFontSize": 21, "labelFontWeight": "normal", "tickColor": "#262626"},
"axisX": {"ticks": false, "labelPadding": 10, "labelAngle": 0},
"axisY": {"tickSize": -4, "labelPadding": 13, "titleAngle": 0, "titleAlign": "center", "titleBaseline": "middle", "titleFont": "Lato", "titleFontSize": 32, "titleFontWeight": "normal", "titleColor": "#000000"},
"title": {"font": "Lato", "fontSize": 35, "fontWeight": 500, "color": "#000000", "frame": "group", "anchor": "middle", "baseline": "alphabetic", "offset": 34}
}
}
